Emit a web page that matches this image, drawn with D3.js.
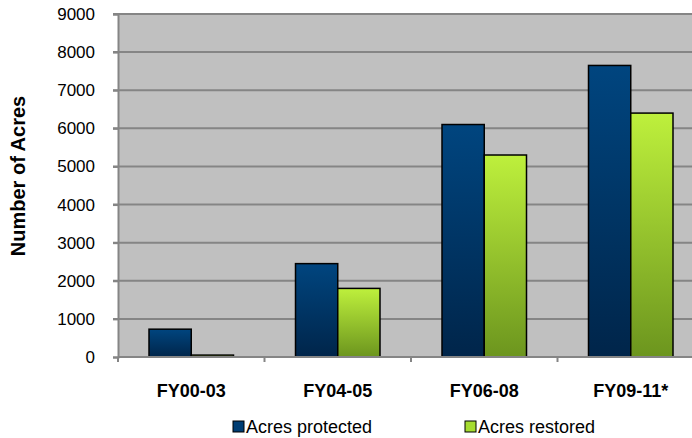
<!DOCTYPE html>
<html>
<head>
<meta charset="utf-8">
<script src="https://cdn.jsdelivr.net/npm/d3@7"></script>
<style>
  body { margin: 0; background: #fff; }
  svg { display: block; font-family: "Liberation Sans", Arial, sans-serif; }
</style>
</head>
<body>
<div id="chart"></div>
<script>
// Chart data
const periods = ["FY00-03", "FY04-05", "FY06-08", "FY09-11*"];
const seriesNames = ["Acres protected", "Acres restored"];
const protectedAcres = [730, 2450, 6100, 7650];
const restoredAcres = [50, 1800, 5300, 6400];
const yTicks = [0, 1000, 2000, 3000, 4000, 5000, 6000, 7000, 8000, 9000];

const W = 692, H = 438;
const margin = {top: 14, left: 118};
const plotW = 586, plotH = 343;

const svg = d3.select("#chart").append("svg")
    .attr("width", W)
    .attr("height", H);

// Gradients for the bars
const defs = svg.append("defs");
const gradBlue = defs.append("linearGradient").attr("id", "gBlue")
    .attr("x1", 0).attr("y1", 0).attr("x2", 0).attr("y2", 1);
gradBlue.append("stop").attr("offset", "0%").attr("stop-color", "#00457f");
gradBlue.append("stop").attr("offset", "100%").attr("stop-color", "#00254a");
const gradGreen = defs.append("linearGradient").attr("id", "gGreen")
    .attr("x1", 0).attr("y1", 0).attr("x2", 0).attr("y2", 1);
gradGreen.append("stop").attr("offset", "0%").attr("stop-color", "#bef03c");
gradGreen.append("stop").attr("offset", "100%").attr("stop-color", "#6c951e");
const fills = ["url(#gBlue)", "url(#gGreen)"];
const legendFills = ["#003d73", "#a6dc30"];

const g = svg.append("g")
    .attr("transform", `translate(${margin.left},${margin.top})`);

const x0 = d3.scaleBand().domain(periods).range([0, plotW]).paddingInner(0).paddingOuter(0);
const x1 = d3.scaleBand().domain(seriesNames).range([31, x0.bandwidth() - 31]).padding(0);
const y = d3.scaleLinear().domain([0, 9000]).range([plotH, 0]);

// Plot background
g.append("rect")
    .attr("width", plotW)
    .attr("height", plotH)
    .attr("fill", "#c0c0c0");

// Gridlines
g.selectAll(".grid")
    .data(yTicks.filter(d => d > 0))
    .enter().append("line")
    .attr("x1", -5).attr("x2", plotW)
    .attr("y1", d => y(d)).attr("y2", d => y(d))
    .attr("stroke", "#858585")
    .attr("stroke-width", 2);

// Y axis
const yAxis = g.append("g")
    .call(d3.axisLeft(y).tickValues(yTicks).tickFormat(d3.format("d")).tickSize(5).tickPadding(18));
yAxis.select(".domain").attr("stroke", "#858585").attr("stroke-width", 2);
yAxis.selectAll(".tick line").attr("stroke", "#858585").attr("stroke-width", 2);
yAxis.selectAll("text").attr("font-size", "17px").attr("fill", "#000")
    .attr("font-family", "Liberation Sans, Arial, sans-serif");

// Bars
const data = periods.map((p, i) => ({period: p, values: [protectedAcres[i], restoredAcres[i]]}));
const groups = g.selectAll(".grp")
    .data(data)
    .enter().append("g")
    .attr("transform", d => `translate(${x0(d.period)},0)`);

groups.selectAll("rect")
    .data(d => d.values.map((v, j) => ({name: seriesNames[j], value: v, j: j})))
    .enter().append("rect")
    .attr("x", d => x1(d.name))
    .attr("y", d => y(d.value))
    .attr("width", x1.bandwidth())
    .attr("height", d => plotH - y(d.value))
    .attr("fill", d => fills[d.j])
    .attr("stroke", "#000")
    .attr("stroke-width", 1.5);

// X axis
const xAxis = g.append("g")
    .attr("transform", `translate(0,${plotH})`);
xAxis.append("line")
    .attr("x1", 0).attr("x2", plotW)
    .attr("stroke", "#858585").attr("stroke-width", 2);
xAxis.selectAll(".xt")
    .data(d3.range(periods.length + 1))
    .enter().append("line")
    .attr("x1", i => i * x0.bandwidth()).attr("x2", i => i * x0.bandwidth())
    .attr("y1", 0).attr("y2", 5)
    .attr("stroke", "#858585").attr("stroke-width", 2);
xAxis.selectAll(".xl")
    .data(periods)
    .enter().append("text")
    .attr("x", d => x0(d) + x0.bandwidth() / 2)
    .attr("y", 40)
    .attr("text-anchor", "middle")
    .attr("font-size", "18px")
    .attr("font-weight", "bold")
    .text(d => d);

// Y axis title
svg.append("text")
    .attr("transform", "rotate(-90)")
    .attr("x", -176)
    .attr("y", 25)
    .attr("text-anchor", "middle")
    .attr("font-size", "20px")
    .attr("font-weight", "bold")
    .text("Number of Acres");

// Legend
const legendX = [233, 465];
const legend = svg.selectAll(".legend")
    .data(seriesNames)
    .enter().append("g")
    .attr("transform", (d, i) => `translate(${legendX[i]},421)`);
legend.append("rect")
    .attr("width", 11).attr("height", 11)
    .attr("fill", (d, i) => legendFills[i])
    .attr("stroke", "#000").attr("stroke-width", 1);
legend.append("text")
    .attr("x", 13)
    .attr("y", 12)
    .attr("font-size", "18px")
    .text(d => d);
</script>
</body>
</html>
